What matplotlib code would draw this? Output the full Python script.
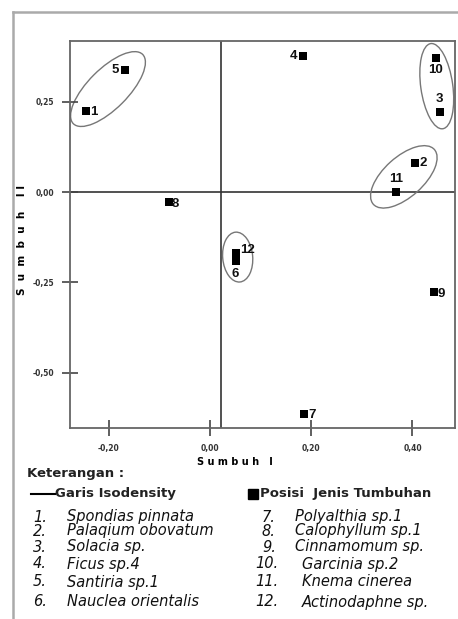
import matplotlib
matplotlib.use('Agg')
import matplotlib.pyplot as plt
from matplotlib.patches import Ellipse, Rectangle
from matplotlib.lines import Line2D
from matplotlib.transforms import ScaledTranslation

plt.rcParams['font.family'] = ['Liberation Sans', 'DejaVu Sans']

# species positions (Sumbuh I, Sumbuh II)
ids = ['1', '2', '3', '4', '5', '6', '7', '8', '9', '10', '11', '12']
sx = [-0.245, 0.405, 0.454, 0.184, -0.168, 0.051, 0.186, -0.081, 0.442, 0.446, 0.367, 0.051]
sy = [0.224, 0.080, 0.221, 0.376, 0.338, -0.191, -0.614, -0.028, -0.277, 0.371, 0.000, -0.169]

names = ['Spondias pinnata', 'Palaqium obovatum', 'Solacia sp.', 'Ficus sp.4',
         'Santiria sp.1', 'Nauclea orientalis', 'Polyalthia sp.1', 'Calophyllum sp.1',
         'Cinnamomum sp.', 'Garcinia sp.2', 'Knema cinerea', 'Actinodaphne sp.']

# isodensity groups: centre (data), width/height (px), angle
ell_cx = [-0.201, 0.448, 0.383, 0.055]
ell_cy = [0.285, 0.293, 0.042, -0.180]
ell_w = [98, 86, 82, 50]
ell_h = [40, 32, 40, 30]
ell_ang = [45, 98, 42, 95]

xticks = [-0.20, 0.00, 0.20, 0.40]
yticks = [0.25, 0.00, -0.25, -0.50]

W, H = 458, 619
fig = plt.figure(figsize=(W / 100, H / 100), dpi=100)
ax = fig.add_axes([70 / W, 1 - 428 / H, 385 / W, 387 / H])
ax.set_xlim(-0.276, 0.484)
ax.set_ylim(-0.653, 0.418)

for s in ax.spines.values():
    s.set_color('#666666')
    s.set_linewidth(1.3)

ax.axhline(0.0, color='#333333', lw=1.2, zorder=1)
ax.axvline(0.022, color='#333333', lw=1.2, zorder=1)

ax.scatter(sx, sy, marker='s', s=26, color='black', linewidths=0, zorder=3)

# label placement per point
offs = {'1': (3, -1, 'left', 'center'), '2': (3, 0, 'left', 'center'),
        '3': (0, 5, 'center', 'bottom'), '4': (-4, 0, 'right', 'center'),
        '5': (-4, 0, 'right', 'center'), '6': (0, -5, 'center', 'top'),
        '7': (3, -1, 'left', 'center'), '8': (2, -1, 'left', 'center'),
        '9': (3, -1, 'left', 'center'), '10': (0, -4, 'center', 'top'),
        '11': (0, 5, 'center', 'bottom'), '12': (3, 2, 'left', 'center')}
for i, x, y in zip(ids, sx, sy):
    dx, dy, ha, va = offs[i]
    ax.annotate(i, (x, y), xytext=(dx, dy), textcoords='offset points',
                ha=ha, va=va, fontsize=9.5, fontweight='bold', color='#111111')

for cx, cy, w, h, a in zip(ell_cx, ell_cy, ell_w, ell_h, ell_ang):
    tr = fig.dpi_scale_trans + ScaledTranslation(cx, cy, ax.transData)
    ax.add_patch(Ellipse((0, 0), w / 100, h / 100, angle=a, transform=tr,
                         fill=False, ec='#777777', lw=1.0))

ax.set_xticks(xticks)
ax.set_xticklabels([('%.2f' % v).replace('.', ',') for v in xticks])
ax.set_yticks(yticks)
ax.set_yticklabels([('%.2f' % v).replace('.', ',') for v in yticks])
ax.tick_params(direction='inout', length=11, width=1.2, color='#444444',
               labelsize=5.5, pad=6)
for lab in ax.get_xticklabels() + ax.get_yticklabels():
    lab.set_fontweight('bold')
    lab.set_family('DejaVu Sans')
    lab.set_color('#333333')

fig.text(235 / W, 1 - 462 / H, 'S u m b u h   I', ha='center', va='center',
         fontsize=7, fontweight='bold', family='DejaVu Sans')
fig.text(22 / W, 1 - 240 / H, 'S  u  m  b  u  h    I I', ha='center', va='center',
         fontsize=7.5, fontweight='bold', rotation=90, family='DejaVu Sans')

# outer frame
fig.add_artist(Line2D([13 / W, 13 / W], [0, 1 - 12 / H], color='#aaaaaa', lw=1.8))
fig.add_artist(Line2D([13 / W, 1], [1 - 12 / H, 1 - 12 / H], color='#aaaaaa', lw=1.8))

# legend block
bold = dict(fontsize=9.5, fontweight='bold', family='DejaVu Sans', va='center', ha='left',
            color='#222222')
fig.text(27 / W, 1 - 474 / H, 'Keterangan :', **bold)
fig.add_artist(Line2D([31 / W, 55 / W], [1 - 494 / H, 1 - 494 / H], color='black', lw=1.5))
fig.text(55 / W, 1 - 494 / H, 'Garis Isodensity', **bold)
fig.add_artist(Rectangle((248 / W, 1 - 499 / H), 10 / W, 10 / H, color='black'))
fig.text(260 / W, 1 - 494 / H, 'Posisi  Jenis Tumbuhan', **bold)

ital = dict(fontsize=10.5, style='italic', family='DejaVu Sans', va='center', ha='left',
            color='#111111')
row_y = [517, 531, 547, 564, 582, 602]
for k in range(6):
    y = 1 - row_y[k] / H
    fig.text(33 / W, y, ids[k] + '.', **ital)
    fig.text(67 / W, y, names[k], **ital)
    j = k + 6
    nx = 262 if j < 9 else 255
    tx = 295 if j < 9 else 302
    fig.text(nx / W, y, ids[j] + '.', **ital)
    fig.text(tx / W, y, names[j], **ital)

fig.savefig('out.png', dpi=100)
